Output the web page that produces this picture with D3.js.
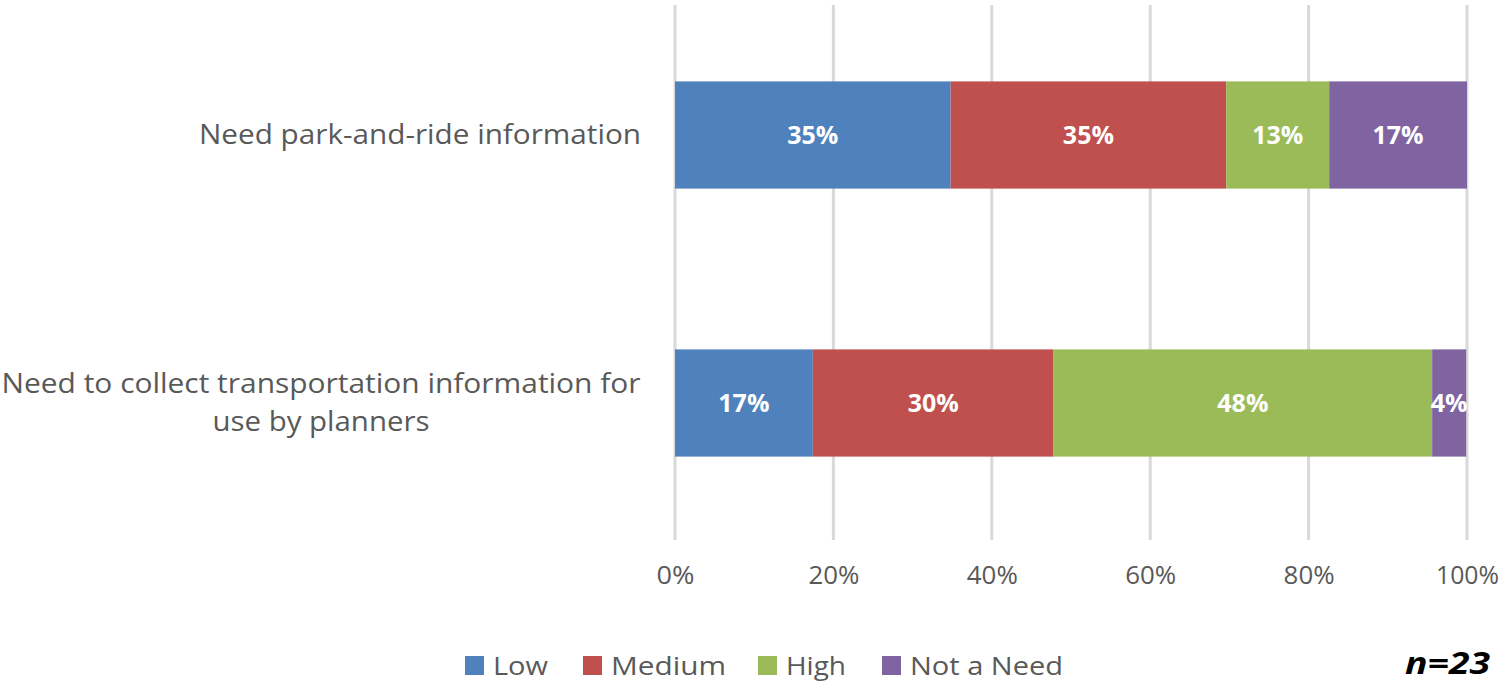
<!DOCTYPE html>
<html lang="en">
<head>
<meta charset="UTF-8">
<title>Needs</title>
<style>
body { margin: 0; background: #fff; }
.cat { font: 27px "Open Sans", sans-serif; fill: #595959; }
.cond { font-family: "Open Sans", sans-serif; }
.tick text { font-size: 26px; fill: #595959; }
.seg-label { font: bold 25px "Open Sans", sans-serif; fill: #fff; }
.legend text { font-size: 26px; fill: #595959; }
.grid line { stroke: #d9d9d9; stroke-width: 3px; }
</style>
</head>
<body>
<script src="https://d3js.org/d3.v7.min.js"></script>
<script>
// categories and series
var categories = ["Need park-and-ride information",
                  "Need to collect transportation information for use by planners"];
var catLines = [["Need park-and-ride information"],
                ["Need to collect transportation information for", "use by planners"]];
var seriesNames = ["Low", "Medium", "High", "Not a Need"];
var colors = ["#4f81bd", "#c0504d", "#9bbb59", "#8064a2"];
// shares per category (n=23)
var low    = [0.348, 0.174];
var medium = [0.348, 0.304];
var high   = [0.130, 0.478];
var notNeed = [0.174, 0.043];
var ticks = [0, 0.2, 0.4, 0.6, 0.8, 1];

var width = 1504, height = 683;

var svg = d3.select("body").append("svg")
    .attr("width", width)
    .attr("height", height);

var x = d3.scaleLinear().domain([0, 1]).range([675, 1467]);
var y = d3.scaleBand().domain(categories).range([1, 537])
    .paddingInner(0.6).paddingOuter(0.3);

// build rows for stacking
var rows = categories.map(function(c, i) {
  return { cat: c, "Low": low[i], "Medium": medium[i], "High": high[i], "Not a Need": notNeed[i] };
});
var stack = d3.stack().keys(seriesNames)(rows);

// gridlines
svg.append("g").attr("class", "grid")
  .selectAll("line").data(ticks).enter().append("line")
    .attr("x1", function(d) { return x(d); })
    .attr("x2", function(d) { return x(d); })
    .attr("y1", 5).attr("y2", 540);

// tick labels via axis (condensed look squeezed to reference widths)
var tickW = { 2: 38, 3: 51, 4: 63 };
var xAxis = svg.append("g")
    .attr("class", "cond")
    .attr("transform", "translate(0,560)")
    .call(d3.axisBottom(x).tickValues(ticks).tickFormat(d3.format(".0%")).tickSize(0));
xAxis.select(".domain").remove();
xAxis.selectAll("text").attr("dy", "0.8em")
    .attr("textLength", function() { return tickW[this.textContent.length]; })
    .attr("lengthAdjust", "spacingAndGlyphs");

// bars
var layer = svg.append("g").selectAll("g").data(stack).enter().append("g")
    .attr("fill", function(d, i) { return colors[i]; });

layer.selectAll("rect").data(function(d) { return d; }).enter().append("rect")
    .attr("x", function(d) { return x(d[0]); })
    .attr("width", function(d) { return x(d[1]) - x(d[0]); })
    .attr("y", function(d) { return y(d.data.cat); })
    .attr("height", y.bandwidth());

layer.selectAll("text").data(function(d) { return d; }).enter().append("text")
    .attr("class", "seg-label")
    .attr("text-anchor", "middle")
    .attr("dy", "0.35em")
    .attr("x", function(d) {
      var cx = (x(d[0]) + x(d[1])) / 2;
      // narrow slice: keep label inside plot right edge
      return (x(d[1]) - x(d[0]) < 45) ? x(d[1]) - 17 : cx;
    })
    .attr("y", function(d) { return y(d.data.cat) + y.bandwidth() / 2; })
    .text(function(d) { return Math.round((d[1] - d[0]) * 100) + "%"; });

// category labels
var catG = svg.append("g").selectAll("text").data(categories).enter().append("text")
    .attr("class", "cat")
    .attr("text-anchor", "middle")
    .attr("y", function(d) { return y(d) + y.bandwidth() / 2; });

catG.each(function(d, i) {
  var lines = catLines[i];
  var el = d3.select(this);
  var lh = 38;
  var start = -(lines.length - 1) * lh / 2;
  lines.forEach(function(l, j) {
    el.append("tspan")
      .attr("x", i === 0 ? 420 : 321)
      .attr("dy", j === 0 ? (start + 9) : lh)
      .text(l);
  });
});
// squeeze lines to reference widths
catG.filter(function(d, i) { return i === 0; }).select("tspan")
    .attr("textLength", 442).attr("lengthAdjust", "spacingAndGlyphs");
var t2 = catG.filter(function(d, i) { return i === 1; }).selectAll("tspan");
t2.filter(function(d, j) { return j === 0; }).attr("textLength", 639).attr("lengthAdjust", "spacingAndGlyphs");
t2.filter(function(d, j) { return j === 1; }).attr("textLength", 217).attr("lengthAdjust", "spacingAndGlyphs");

// legend
var legendX = [465, 583, 758, 882];
var legendW = [55, 115, 60, 153];
var legend = svg.append("g").attr("class", "legend cond")
  .selectAll("g").data(seriesNames).enter().append("g")
    .attr("transform", function(d, i) { return "translate(" + legendX[i] + ",656)"; });
legend.append("rect").attr("width", 19).attr("height", 19)
    .attr("fill", function(d, i) { return colors[i]; });
legend.append("text").attr("x", 28).attr("y", 19)
    .attr("textLength", function(d, i) { return legendW[i]; })
    .attr("lengthAdjust", "spacingAndGlyphs")
    .text(function(d) { return d; });

// sample size
svg.append("text")
    .attr("class", "cond")
    .attr("x", 1405).attr("y", 674)
    .attr("textLength", 85).attr("lengthAdjust", "spacingAndGlyphs")
    .style("font-size", "31px").style("font-weight", "bold").style("font-style", "italic")
    .style("fill", "#000")
    .text("n=23");
</script>
</body>
</html>
